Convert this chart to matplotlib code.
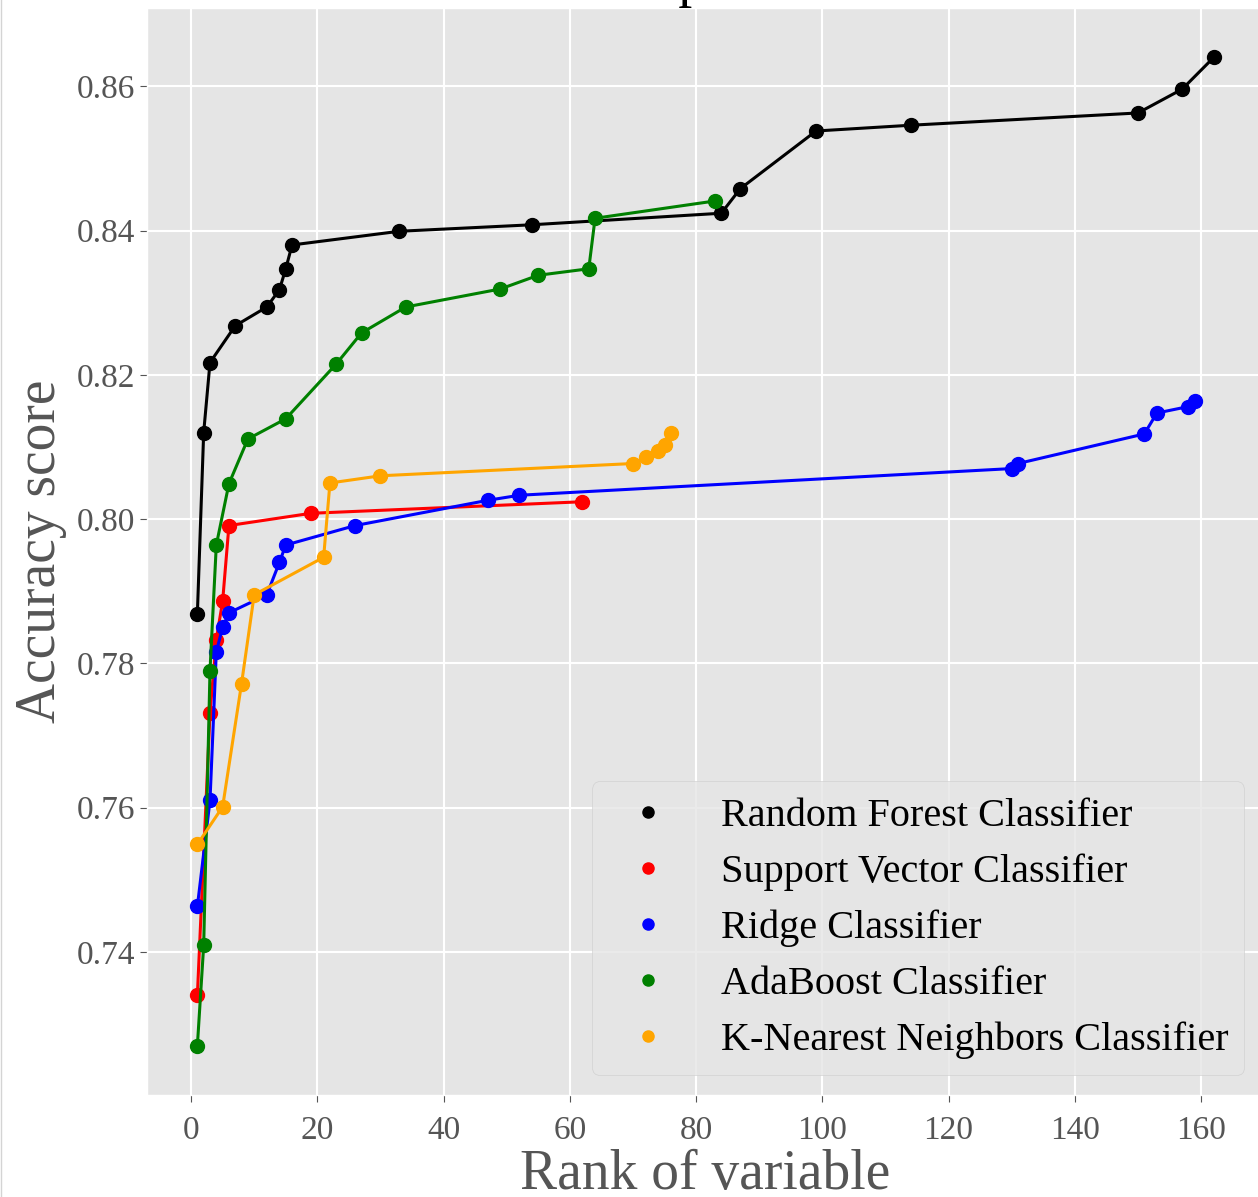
import matplotlib
matplotlib.use("Agg")
import matplotlib.pyplot as plt
from matplotlib.lines import Line2D

# ------------------------------------------------------------
# accuracy vs. number of top-ranked variables, per classifier
# ------------------------------------------------------------
rf_rank = [1, 2, 3, 7, 12, 14, 15, 16, 33, 54, 84, 87, 99, 114, 150, 157, 162]
rf_acc = [0.7869, 0.8120, 0.8217, 0.8268, 0.8294, 0.8318, 0.8347, 0.8380, 0.8399,
          0.8408, 0.8424, 0.8458, 0.8538, 0.8546, 0.8563, 0.8596, 0.8640]

svc_rank = [1, 3, 4, 5, 6, 19, 62]
svc_acc = [0.7340, 0.7731, 0.7833, 0.7886, 0.7991, 0.8008, 0.8024]

ridge_rank = [1, 3, 4, 5, 6, 12, 14, 15, 26, 47, 52, 130, 131, 151, 153, 158, 159]
ridge_acc = [0.7463, 0.7610, 0.7816, 0.7850, 0.7870, 0.7895, 0.7940, 0.7964, 0.7991,
             0.8026, 0.8033, 0.8070, 0.8077, 0.8118, 0.8147, 0.8156, 0.8163]

ada_rank = [1, 2, 3, 4, 6, 9, 15, 23, 27, 34, 49, 55, 63, 64, 83]
ada_acc = [0.7270, 0.7409, 0.7790, 0.7964, 0.8049, 0.8111, 0.8139, 0.8215, 0.8258,
           0.8294, 0.8319, 0.8338, 0.8347, 0.8417, 0.8441]

knn_rank = [1, 5, 8, 10, 21, 22, 30, 70, 72, 74, 75, 76]
knn_acc = [0.7549, 0.7601, 0.7772, 0.7895, 0.7947, 0.8050, 0.8060, 0.8077, 0.8086,
           0.8094, 0.8102, 0.8119]

names = ["Random Forest Classifier", "Support Vector Classifier", "Ridge Classifier",
         "AdaBoost Classifier", "K-Nearest Neighbors Classifier"]
colors = ["black", "red", "blue", "green", "orange"]
series = [(rf_rank, rf_acc), (svc_rank, svc_acc), (ridge_rank, ridge_acc),
          (ada_rank, ada_acc), (knn_rank, knn_acc)]


def main():
    plt.style.use("ggplot")
    plt.rcParams["font.family"] = ["Liberation Serif", "DejaVu Serif"]

    fig = plt.figure(figsize=(12.58, 11.97), dpi=100)
    ax = fig.add_axes([0.1165, 0.0852, 0.8887, 0.9081])

    for (xs, ys), c in zip(series, colors):
        ax.plot(xs, ys, color=c, lw=2.2, marker="o", ms=10)

    ax.grid(True, color="white", lw=1.5)
    ax.tick_params(axis="both", labelsize=24, length=5)
    ax.tick_params(axis="x", pad=10)
    ax.set_xticks(range(0, 161, 20))
    ax.set_yticks([0.74, 0.76, 0.78, 0.80, 0.82, 0.84, 0.86])
    ax.set_xlabel("Rank of variable", fontsize=40, color="#555555", labelpad=2)
    ax.set_ylabel("Accuracy score", fontsize=40, color="#555555", labelpad=7)
    ax.set_title("Classifier performance", fontsize=40)

    handles = [Line2D([], [], ls="none", marker="o", ms=8, color=c) for c in colors]
    ax.legend(handles, names, loc="lower right", fontsize=29, labelspacing=0.46)

    # thin border line along the left edge of the canvas
    fig.add_artist(Line2D([0.0005, 0.0005], [0, 1], transform=fig.transFigure,
                          color="#d4d4d4", lw=1))

    fig.savefig("out.png", dpi=100)


if __name__ == "__main__":
    main()
